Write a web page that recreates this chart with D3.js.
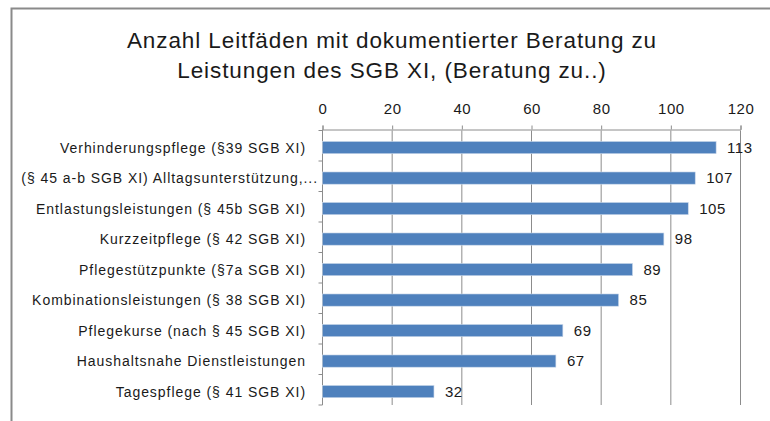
<!DOCTYPE html>
<html>
<head>
<meta charset="utf-8">
<script src="https://cdn.jsdelivr.net/npm/d3@7"></script>
<style>
	body { margin: 0; background: #fff; }
	svg { display: block; }
	text { font-family: "Liberation Sans", Arial, sans-serif; fill: #1a1a1a; }
</style>
</head>
<body>
<div id="chart"></div>
<script>
// DATA
const categories = [
	"Verhinderungspflege (§39 SGB XI)",
	"(§ 45 a-b SGB XI) Alltagsunterstützung,...",
	"Entlastungsleistungen (§ 45b SGB XI)",
	"Kurzzeitpflege (§ 42 SGB XI)",
	"Pflegestützpunkte (§7a SGB XI)",
	"Kombinationsleistungen (§ 38 SGB XI)",
	"Pflegekurse (nach § 45 SGB XI)",
	"Haushaltsnahe Dienstleistungen",
	"Tagespflege (§ 41 SGB XI)"
];
const values = [113, 107, 105, 98, 89, 85, 69, 67, 32];
const xTicks = [0, 20, 40, 60, 80, 100, 120];
const titleLines = [
	"Anzahl Leitfäden mit dokumentierter Beratung zu",
	"Leistungen des SGB XI, (Beratung zu..)"
];


// SVG DIMENSIONS
const width = 770;
const height = 421;
const plot = { left: 322.5, right: 740.5, top: 130.5, bottom: 405 };

const svg = d3.select("#chart")
	.append("svg")
	.attr("width", width)
	.attr("height", height);

// outer chart frame (only left and top edges are in the picture)
svg.append("path")
	.attr("d", `M11.5,${height} V8.5 H${width}`)
	.attr("fill", "none")
	.attr("stroke", "#8a8a8a")
	.attr("stroke-width", 2);


// TITLE
svg.append("g")
	.selectAll("text")
	.data(titleLines)
	.enter()
	.append("text")
		.attr("x", 392)
		.attr("y", (d, i) => 48 + i * 30)
		.attr("text-anchor", "middle")
		.style("font-size", "22.5px")
		.style("letter-spacing", "0.9px")
		.text(d => d);


// SCALES
const x = d3.scaleLinear()
	.domain([0, 120])
	.range([plot.left, plot.right]);
const y = d3.scaleBand()
	.domain(categories)
	.range([plot.top, plot.bottom])
	.paddingInner(0.6)
	.paddingOuter(0.3)
	.align(0.6);
const band = (plot.bottom - plot.top) / categories.length;


// GRIDLINES
svg.append("g")
	.selectAll("line")
	.data(xTicks.slice(1))
	.enter()
	.append("line")
		.attr("x1", d => x(d))
		.attr("x2", d => x(d))
		.attr("y1", plot.top)
		.attr("y2", plot.bottom)
		.attr("stroke", "#8c8c8c")
		.attr("stroke-width", 1);


// TOP AXIS
const xAxis = svg.append("g")
	.attr("transform", `translate(0,${plot.top - 1})`)
	.call(d3.axisTop(x).tickValues(xTicks).tickSize(4).tickPadding(12));
xAxis.select(".domain").attr("stroke", "#8c8c8c");
xAxis.selectAll(".tick line").attr("stroke", "#8c8c8c");
xAxis.selectAll(".tick text")
	.style("font-family", "Liberation Sans, Arial, sans-serif")
	.style("font-size", "15px")
	.style("letter-spacing", "0.5px")
	.attr("fill", "#1a1a1a");


// LEFT AXIS (line + ticks at category boundaries)
svg.append("line")
	.attr("x1", plot.left).attr("x2", plot.left)
	.attr("y1", plot.top - 1).attr("y2", plot.bottom)
	.attr("stroke", "#8c8c8c");
svg.append("g")
	.selectAll("line")
	.data(d3.range(categories.length + 1))
	.enter()
	.append("line")
		.attr("x1", plot.left - 4)
		.attr("x2", plot.left)
		.attr("y1", i => plot.top + i * band)
		.attr("y2", i => plot.top + i * band)
		.attr("stroke", "#8c8c8c");

// category labels
svg.append("g")
	.selectAll("text")
	.data(categories)
	.enter()
	.append("text")
		.attr("x", d => d.endsWith("...") ? 318 : 306)
		.attr("y", d => y(d) + y.bandwidth() / 2)
		.attr("dy", "0.36em")
		.attr("text-anchor", "end")
		.style("font-size", "14px")
		.style("letter-spacing", "0.95px")
		.text(d => d);


// BARS
svg.append("g")
	.selectAll("rect")
	.data(values)
	.enter()
	.append("rect")
		.attr("x", x(0))
		.attr("y", (d, i) => y(categories[i]))
		.attr("width", d => x(d) - x(0))
		.attr("height", y.bandwidth())
		.attr("fill", "#4f81bd")
		.attr("stroke", "#c9d7ea")
		.attr("stroke-width", 0.6);

// value labels
svg.append("g")
	.selectAll("text")
	.data(values)
	.enter()
	.append("text")
		.attr("x", d => x(d) + 11)
		.attr("y", (d, i) => y(categories[i]) + y.bandwidth() / 2)
		.attr("dy", "0.36em")
		.style("font-size", "15px")
		.style("letter-spacing", "0.5px")
		.text(d => d);
</script>
</body>
</html>
